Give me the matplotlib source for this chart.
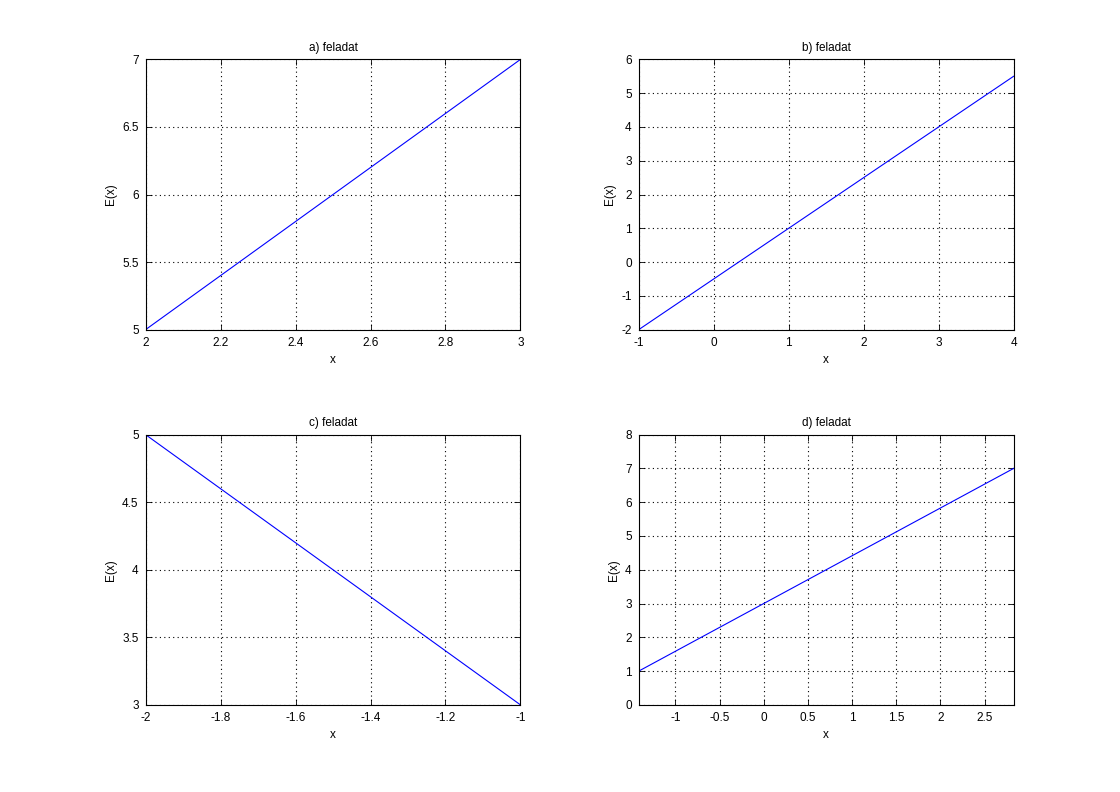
import numpy as np
import matplotlib
matplotlib.use('Agg')
import matplotlib.pyplot as plt

plt.rcParams['font.family'] = ['Liberation Sans', 'DejaVu Sans']

titles = ['a) feladat', 'b) feladat', 'c) feladat', 'd) feladat']

xa = [2, 3]
ya = [5, 7]
xb = [-1, 4]
yb = [-2, 5.5]
xc = [-2, -1]
yc = [5, 3]
xd = [-np.sqrt(2), 2 * np.sqrt(2)]
yd = [1, 7]

xticks = [np.arange(2, 3.01, 0.2), np.arange(-1, 4.01, 1),
          np.arange(-2, -0.99, 0.2), np.arange(-1, 2.51, 0.5)]
yticks = [np.arange(5, 7.01, 0.5), np.arange(-2, 6.01, 1),
          np.arange(3, 5.01, 0.5), np.arange(0, 8.01, 1)]
ylims = [(5, 7), (-2, 6), (3, 5), (0, 8)]

data = [(xa, ya), (xb, yb), (xc, yc), (xd, yd)]
pos = [[0.13, 0.5838, 0.3347, 0.3412], [0.5703, 0.5838, 0.3347, 0.3412],
       [0.13, 0.11, 0.3347, 0.3412], [0.5703, 0.11, 0.3347, 0.3412]]

def fmt(v):
    s = '%g' % round(v, 6)
    return s

fig = plt.figure(figsize=(11.2, 7.92), dpi=100)
for i in range(4):
    ax = fig.add_axes(pos[i])
    x, y = data[i]
    ax.plot(x, y, color='#0000ff', linewidth=0.8)
    ax.set_xlim(x[0], x[1])
    ax.set_ylim(*ylims[i])
    ax.set_xticks(xticks[i])
    ax.set_xticklabels([fmt(v) for v in xticks[i]])
    ax.set_yticks(yticks[i])
    ax.set_yticklabels([fmt(v) for v in yticks[i]])
    ax.grid(True, linestyle=(0, (1, 3)), color='black', linewidth=0.8)
    ax.tick_params(direction='in', top=True, right=True, labelsize=8.5,
                   length=4, width=0.6, pad=5)
    for sp in ax.spines.values():
        sp.set_linewidth(0.8)
    ax.set_title(titles[i], fontsize=8.5, pad=6)
    ax.set_xlabel('x', fontsize=8.5, labelpad=4)
    ax.set_ylabel('E(x)', fontsize=8.5, labelpad=4)

fig.savefig('out.png', dpi=100)
